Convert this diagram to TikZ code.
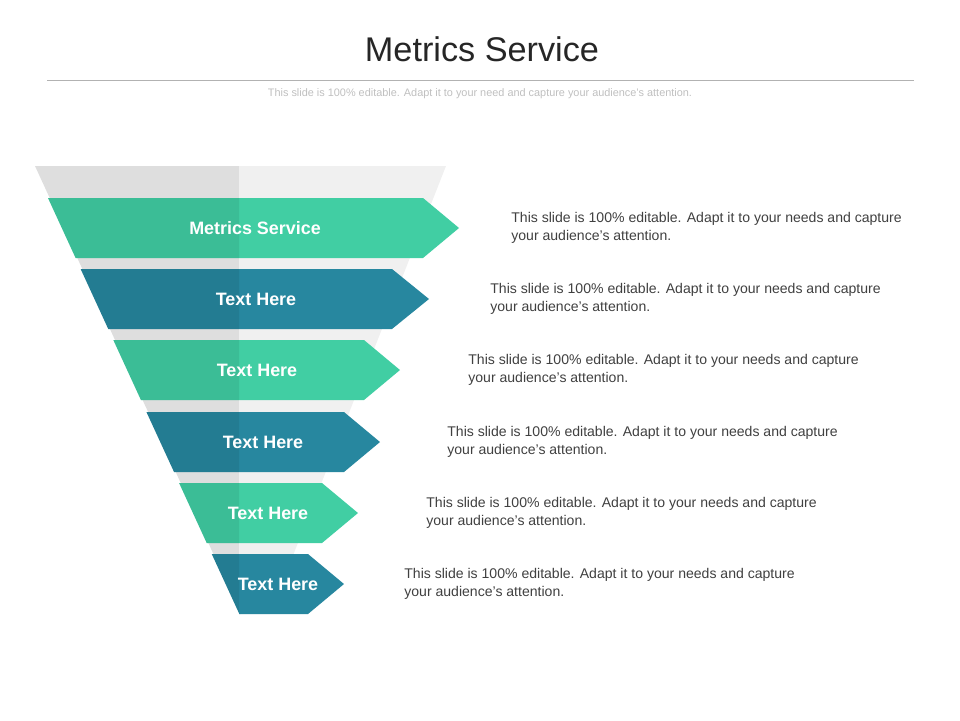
\documentclass[tikz,border=0pt]{standalone}
\usepackage{fontspec}
\setmainfont{Liberation Sans}
\usepackage{xcolor}
\usetikzlibrary{positioning,calc}

\definecolor{mintgreen}{HTML}{41CEA3}
\definecolor{deepteal}{HTML}{27879F}
\definecolor{bodygray}{HTML}{404040}

\begin{document}
\begin{tikzpicture}[
    x=0.02cm, y=-0.02cm,
    label/.style={text=white, font=\bfseries\fontsize{10.2}{12}\selectfont, inner sep=0pt},
    desc/.style={anchor=west, text=bodygray, font=\fontsize{8}{10.2}\selectfont, align=left, inner sep=0pt},
    shade/.style={fill=black, opacity=0.08}
]

% Canvas
\useasboundingbox (0,0) rectangle (960,720);

% Title and rule
\node[font=\fontsize{19.5}{24}\selectfont, text=black!85] (title) at (482,49) {Metrics Service};
\draw[black!30, line width=0.5pt] (47,80) -- (914,80);
\node[text=black!25, font=\fontsize{6.2}{7}\selectfont] (subtitle) at (480,94) {This slide is 100\% editable. Adapt it to your need and capture your audience's attention.};

% Background funnel
\fill[black!13] (35,166) -- (239,166) -- (239,614) -- (241,614) -- cycle;
\fill[black!6] (239,166) -- (446,166) -- (270,614) -- (239,614) -- cycle;

% Funnel bands
\foreach \i/\ytop/\body/\tip/\col/\lx/\txt/\dx in {
    1/198/423/459/mintgreen/255/Metrics Service/511,
    2/269/392/429/deepteal/256/Text Here/490,
    3/340/364/400/mintgreen/257/Text Here/468,
    4/412/344/380/deepteal/263/Text Here/447,
    5/483/322/358/mintgreen/268/Text Here/426,
    6/554/308/344/deepteal/278/Text Here/404} {
  \pgfmathsetmacro{\ybot}{\ytop+60}
  \pgfmathsetmacro{\ymid}{\ytop+30}
  \pgfmathsetmacro{\ltop}{48+0.46*(\ytop-198)}
  \pgfmathsetmacro{\lbot}{48+0.46*(\ybot-198)}
  \fill[\col] (\ltop,\ytop) -- (\body,\ytop) -- (\tip,\ymid) -- (\body,\ybot) -- (\lbot,\ybot) -- cycle;
  \fill[shade] (\ltop,\ytop) -- (239,\ytop) -- (239,\ybot) -- (\lbot,\ybot) -- cycle;
  \node[label] (band\i) at (\lx,\ymid) {\txt};
  \node[desc] (desc\i) at (\dx,\ymid) {This slide is 100\% editable. Adapt it to your needs and capture\\your audience's attention.};
}

\end{tikzpicture}
\end{document}
